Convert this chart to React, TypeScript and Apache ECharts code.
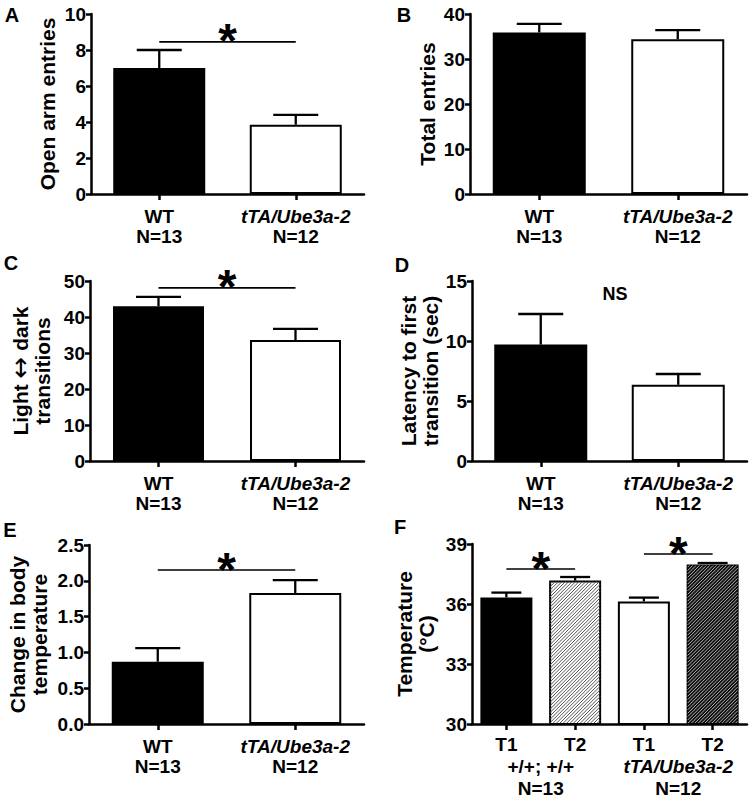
import React, { useEffect, useRef } from 'react';
import * as echarts from 'echarts';

const FONT = '"Liberation Sans", Arial, Helvetica, sans-serif';

// ---- data ----
const genotypes = ['WT', 'tTA/Ube3a-2'];
const groupN = ['N=13', 'N=12'];

const openArmMean = [7.0, 3.85];
const openArmSem = [1.0, 0.55];
const totalEntriesMean = [35.9, 34.4];
const totalEntriesSem = [1.9, 2.0];
const transitionsMean = [43.0, 33.6];
const transitionsSem = [2.6, 3.1];
const latencyMean = [9.7, 6.35];
const latencySem = [2.55, 0.9];
const tempChangeMean = [0.87, 1.83];
const tempChangeSem = [0.19, 0.18];

const timepoints = ['T1', 'T2', 'T1', 'T2'];
const tempGroups = ['+/+; +/+', 'tTA/Ube3a-2'];
const temperatureMean = [36.33, 37.17, 36.13, 37.98];
const temperatureSem = [0.24, 0.18, 0.19, 0.07];

// significance brackets: [fromCategory, toCategory, yValue]
const sigA = [[0, 1, 8.45]];
const sigC = [[0, 1, 48.1]];
const sigE = [[0, 1, 2.15]];
const sigF = [[0, 1, 37.75], [2, 3, 38.5]];
// NS label: [fromCategory, toCategory, fraction, yValue]
const nsD = [[0, 1, 0.54, 13.9]];

const yTicksA = { min: 0, max: 10, interval: 2 };
const yTicksB = { min: 0, max: 40, interval: 10 };
const yTicksC = { min: 0, max: 50, interval: 10 };
const yTicksD = { min: 0, max: 15, interval: 5 };
const yTicksE = { min: 0, max: 2.5, interval: 0.5 };
const yTicksF = { min: 30, max: 39, interval: 3 };

const panelLetters = ['A', 'B', 'C', 'D', 'E', 'F'];

// ---- styles ----
const blackBar = { color: '#000', borderColor: '#000', borderWidth: 2 };
const whiteBar = { color: '#fff', borderColor: '#000', borderWidth: 2 };
const lightHatchBar = { color: '#fff', borderColor: '#000', borderWidth: 2 };
const darkHatchBar = { color: '#111', borderColor: '#000', borderWidth: 2 };
// hatch overlay per F bar (null = none)
const tempHatch = [
  null,
  { stroke: '#555', lineWidth: 1, period: 3.4 },
  null,
  { stroke: '#b0b0b0', lineWidth: 1, period: 3.4 },
];

const labelText = { fontFamily: FONT, fontWeight: 'bold', fontSize: 19, color: '#000' };
const rich = {
  b: { ...labelText, lineHeight: 20 },
  it: { ...labelText, fontStyle: 'italic', lineHeight: 20 },
};

const italicSet = new Set(['tTA/Ube3a-2']);
const wrap = (s: string) => `{${italicSet.has(s) ? 'it' : 'b'}|${s}}`;

function buildOption() {
  const grids = [
    { left: 91, top: 14, width: 273, height: 180 },
    { left: 470, top: 14, width: 277, height: 180 },
    { left: 90, top: 281, width: 274, height: 180 },
    { left: 472, top: 281, width: 275, height: 180 },
    { left: 89, top: 545, width: 275, height: 179 },
    { left: 472, top: 544, width: 275, height: 180 },
  ];
  const yNames = [
    'Open arm entries',
    'Total entries',
    'Light {arr|\u2194\uFE0E} dark\ntransitions',
    'Latency to first\ntransition (sec)',
    'Change in body\ntemperature',
    'Temperature\n(\u00b0C)',
  ];
  const nameGaps = [33, 32, 37, 30, 39, 35];
  const yTicks = [yTicksA, yTicksB, yTicksC, yTicksD, yTicksE, yTicksF];
  const barWidths = [92, 93, 91, 93, 92, 52];

  const axisLine = { show: true, lineStyle: { color: '#000', width: 2.5 } };
  const nameStyle = { fontFamily: FONT, fontWeight: 'bold', fontSize: 21, color: '#000', lineHeight: 22 };

  const yAxis = grids.map((_, i) => ({
    gridIndex: i,
    type: 'value',
    ...yTicks[i],
    name: yNames[i],
    nameLocation: 'middle',
    nameGap: nameGaps[i],
    nameTextStyle: {
      ...nameStyle,
      rich: {
        arr: {
          ...nameStyle,
          fontFamily: '"DejaVu Sans", "Liberation Sans", sans-serif',
          fontWeight: 'normal',
          fontSize: 26,
        },
      },
    },
    axisLine,
    axisTick: { show: true, length: 5, lineStyle: { color: '#000', width: 2.5 } },
    axisLabel: {
      ...labelText,
      margin: 5,
      formatter: i === 4 ? (v: number) => v.toFixed(1) : (v: number) => String(v),
    },
    splitLine: { show: false },
  }));

  const genoAxis = (i: number) => ({
    gridIndex: i,
    type: 'category',
    data: genotypes,
    axisLine,
    axisTick: { show: true, alignWithLabel: true, length: 6, lineStyle: { color: '#000', width: 2.5 } },
    axisLabel: {
      margin: 12,
      interval: 0,
      formatter: (v: string, idx: number) => `${wrap(v)}\n{b|${groupN[idx]}}`,
      rich,
    },
    splitLine: { show: false },
  });

  const xAxis: any[] = [0, 1, 2, 3, 4].map(genoAxis);
  xAxis.push({
    gridIndex: 5,
    type: 'category',
    data: timepoints,
    axisLine,
    axisTick: { show: true, alignWithLabel: true, length: 6, lineStyle: { color: '#000', width: 2.5 } },
    axisLabel: { ...labelText, margin: 11, interval: 0 },
    splitLine: { show: false },
  });
  xAxis.push({
    gridIndex: 5,
    type: 'category',
    position: 'bottom',
    offset: 20,
    data: tempGroups,
    axisLine: { show: false },
    axisTick: { show: false },
    axisLabel: {
      margin: 11,
      interval: 0,
      formatter: (v: string, idx: number) => `${wrap(v)}\n{b|${groupN[idx]}}`,
      rich: { b: { ...labelText, lineHeight: 22 }, it: { ...labelText, fontStyle: 'italic', lineHeight: 22 } },
    },
    splitLine: { show: false },
  });

  const barSeries = (i: number, means: number[], styles: any[]) => ({
    type: 'bar',
    xAxisIndex: i,
    yAxisIndex: i,
    barWidth: barWidths[i],
    clip: true,
    data: means.map((v, j) => ({ value: v, itemStyle: styles[j] })),
  });

  const hatchSeries = (i: number, means: number[], hatch: any[], yMin: number) => ({
    type: 'custom',
    xAxisIndex: i,
    yAxisIndex: i,
    z: 4,
    data: means.map((m, j) => [j, m]),
    encode: { x: 0, y: 1 },
    renderItem: (_p: any, api: any) => {
      const j = api.value(0);
      const h = hatch[j];
      if (!h) return { type: 'group', children: [] };
      const top = api.coord([j, api.value(1)]);
      const bottom = api.coord([j, yMin]);
      const L = top[0] - barWidths[i] / 2 + 1;
      const R = top[0] + barWidths[i] / 2 - 1;
      const T = top[1] + 1;
      const B = bottom[1] - 1;
      const children: any[] = [];
      // "/" lines: x + y = c
      for (let c = L + T + h.period / 2; c < R + B; c += h.period) {
        const x0 = Math.max(L, c - B);
        const x1 = Math.min(R, c - T);
        if (x1 <= x0) continue;
        children.push({
          type: 'line',
          shape: { x1: x0, y1: c - x0, x2: x1, y2: c - x1 },
          style: { stroke: h.stroke, lineWidth: h.lineWidth },
        });
      }
      return { type: 'group', children };
    },
  });

  const errorSeries = (i: number, means: number[], sems: number[], capW: number) => ({
    type: 'custom',
    xAxisIndex: i,
    yAxisIndex: i,
    z: 5,
    data: means.map((m, j) => [j, m, m + sems[j]]),
    encode: { x: 0, y: [1, 2] },
    renderItem: (_p: any, api: any) => {
      const x = api.value(0);
      const p0 = api.coord([x, api.value(1)]);
      const p1 = api.coord([x, api.value(2)]);
      const st = { stroke: '#000', lineWidth: 2.3 };
      return {
        type: 'group',
        children: [
          { type: 'line', shape: { x1: p0[0], y1: p0[1], x2: p1[0], y2: p1[1] }, style: st },
          { type: 'line', shape: { x1: p1[0] - capW / 2, y1: p1[1], x2: p1[0] + capW / 2, y2: p1[1] }, style: st },
        ],
      };
    },
  });

  const sigSeries = (i: number, brackets: number[][]) => ({
    type: 'custom',
    xAxisIndex: i,
    yAxisIndex: i,
    z: 6,
    data: brackets,
    encode: { x: [0, 1], y: 2 },
    renderItem: (_p: any, api: any) => {
      const y = api.value(2);
      const a = api.coord([api.value(0), y]);
      const b = api.coord([api.value(1), y]);
      return {
        type: 'group',
        children: [
          { type: 'line', shape: { x1: a[0], y1: a[1], x2: b[0], y2: b[1] }, style: { stroke: '#000', lineWidth: 1.6 } },
          {
            type: 'text',
            x: (a[0] + b[0]) / 2,
            y: a[1] - 1,
            style: {
              text: '*',
              fontFamily: FONT,
              fontWeight: 'bold',
              fontSize: 48,
              fill: '#000',
              align: 'center',
              verticalAlign: 'middle',
            },
          },
        ],
      };
    },
  });

  const nsSeries = (i: number, items: number[][]) => ({
    type: 'custom',
    xAxisIndex: i,
    yAxisIndex: i,
    z: 6,
    data: items,
    encode: { x: [0, 1], y: 3 },
    renderItem: (_p: any, api: any) => {
      const y = api.value(3);
      const a = api.coord([api.value(0), y]);
      const b = api.coord([api.value(1), y]);
      const t = api.value(2);
      return {
        type: 'text',
        x: a[0] + (b[0] - a[0]) * t,
        y: a[1],
        style: {
          text: 'NS',
          fontFamily: FONT,
          fontWeight: 'bold',
          fontSize: 18,
          fill: '#000',
          align: 'center',
          verticalAlign: 'middle',
        },
      };
    },
  });

  const series: any[] = [
    barSeries(0, openArmMean, [blackBar, whiteBar]),
    barSeries(1, totalEntriesMean, [blackBar, whiteBar]),
    barSeries(2, transitionsMean, [blackBar, whiteBar]),
    barSeries(3, latencyMean, [blackBar, whiteBar]),
    barSeries(4, tempChangeMean, [blackBar, whiteBar]),
    barSeries(5, temperatureMean, [blackBar, lightHatchBar, whiteBar, darkHatchBar]),
    hatchSeries(5, temperatureMean, tempHatch, yTicksF.min),
    errorSeries(0, openArmMean, openArmSem, 45),
    errorSeries(1, totalEntriesMean, totalEntriesSem, 45),
    errorSeries(2, transitionsMean, transitionsSem, 45),
    errorSeries(3, latencyMean, latencySem, 45),
    errorSeries(4, tempChangeMean, tempChangeSem, 45),
    errorSeries(5, temperatureMean, temperatureSem, 30),
    sigSeries(0, sigA),
    sigSeries(2, sigC),
    sigSeries(4, sigE),
    sigSeries(5, sigF),
    nsSeries(3, nsD),
  ];

  const letterPos = [
    [12, 15],
    [404, 15],
    [11, 263],
    [402, 265],
    [10, 530],
    [400, 527],
  ];

  return {
    animation: false,
    backgroundColor: '#fff',
    grid: grids.map((g) => ({ ...g, containLabel: false })),
    xAxis,
    yAxis,
    series,
    graphic: panelLetters.map((l, i) => ({
      type: 'text',
      x: letterPos[i][0],
      y: letterPos[i][1],
      style: {
        text: l,
        fontFamily: FONT,
        fontWeight: 'bold',
        fontSize: 20,
        fill: '#000',
        align: 'center',
        verticalAlign: 'middle',
      },
    })),
  };
}

export default function App() {
  const ref = useRef<HTMLDivElement>(null);
  useEffect(() => {
    document.body.style.margin = '0';
    if (!ref.current) return;
    const chart = echarts.init(ref.current, null, { renderer: 'svg' });
    chart.setOption(buildOption() as any);
    return () => chart.dispose();
  }, []);
  return <div ref={ref} style={{ width: 750, height: 805 }} />;
}
